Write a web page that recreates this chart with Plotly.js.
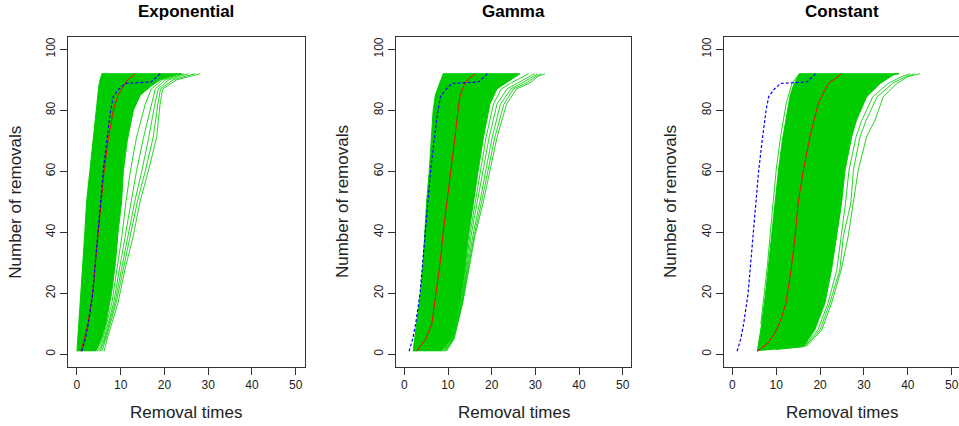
<!DOCTYPE html>
<html>
<head>
<meta charset="utf-8">
<script src="https://cdn.plot.ly/plotly-3.0.1.min.js"></script>
<style>
html,body{margin:0;padding:0;overflow:hidden;background:#fff;}
#chart{width:962px;height:426px;}
</style>
</head>
<body>
<div id="chart"></div>
<script>
// ---------- data ----------
const panelTitles = ["Exponential", "Gamma", "Constant"];
const xTicks = [0, 10, 20, 30, 40, 50];
const yTicks = [0, 20, 40, 60, 80, 100];

// common removal-count levels used for band edges / medians
const removalLevels = [1, 5, 10, 20, 30, 40, 50, 60, 70, 80, 85, 88, 90, 91, 92];

// observed removal curve (blue, same in all panels)
const obsY = [1, 5, 10, 20, 30, 40, 50, 60, 70, 80, 84.5, 87, 88.8, 89.3, 90.5, 92];
const obsX = [1.1, 1.9, 2.6, 3.6, 4.2, 4.8, 5.4, 6.0, 6.8, 7.7, 8.3, 9.6, 11.0, 17.0, 17.9, 19.0];

// Exponential
const expLeft   = [0.0, 0.2, 0.45, 0.9, 1.3, 1.8, 2.2, 2.9, 3.6, 4.3, 4.7, 5.0, 5.3, 5.5, 5.7];
const expRight  = [4.3, 5.6, 6.6, 7.9, 8.8, 9.4, 10.2, 10.6, 11.5, 12.9, 14.5, 17.0, 19.0, 21.0, 24.0];
const expMedian = [0.9, 1.7, 2.5, 3.6, 4.2, 4.9, 5.5, 6.2, 7.1, 8.3, 9.4, 10.6, 11.6, 12.4, 13.4];
const expTailY  = [1, 5, 17, 28, 39, 50, 60, 71, 82, 87, 90, 92];
const expTail1  = [4.6, 5.9, 8.0, 9.2, 10.3, 11.2, 12.2, 13.6, 15.6, 17.0, 19.5, 23.5];
const expTail2  = [5.0, 6.2, 8.4, 9.7, 11.0, 12.3, 13.6, 15.2, 17.0, 17.9, 20.2, 24.5];
const expTail3  = [5.3, 6.4, 8.7, 10.2, 11.7, 13.2, 14.8, 16.4, 17.8, 18.6, 21.0, 25.5];
const expTail4  = [5.7, 6.6, 9.0, 10.6, 12.3, 13.8, 15.6, 17.4, 18.5, 19.1, 22.0, 27.0];
const expTail5  = [6.2, 6.9, 9.4, 11.0, 12.9, 14.4, 16.3, 18.2, 19.0, 19.6, 22.8, 28.2];

// Gamma
const gamLeft   = [2.0, 2.4, 2.8, 3.7, 4.3, 4.7, 5.1, 5.7, 6.2, 6.6, 7.1, 7.8, 8.3, 8.6, 8.9];
const gamRightY = [1, 5, 10, 17, 28, 39, 50, 60, 71, 82, 87, 89, 91, 92];
const gamRightX = [8.5, 10.8, 11.8, 12.8, 13.9, 14.7, 15.8, 16.9, 18.1, 19.6, 21.2, 23.4, 25.5, 26.5];
const gamMedian = [2.8, 4.9, 6.3, 7.3, 8.2, 8.9, 9.8, 10.7, 11.5, 12.3, 12.8, 13.6, 14.5, 15.3, 16.3];
const gamTailY  = [1, 5, 17, 28, 39, 50, 60, 71, 82, 87, 89, 91, 92];
const gamTail1  = [8.8, 11.0, 13.0, 14.1, 15.0, 16.3, 17.4, 18.7, 20.4, 22.2, 24.5, 27.0, 28.5];
const gamTail2  = [9.0, 11.1, 13.1, 14.3, 15.3, 16.8, 18.0, 19.4, 21.2, 23.5, 26.0, 28.5, 29.8];
const gamTail3  = [9.2, 11.2, 13.2, 14.5, 15.7, 17.3, 18.6, 20.1, 22.0, 24.4, 27.0, 29.5, 30.6];
const gamTail4  = [9.4, 11.3, 13.3, 14.6, 16.0, 17.7, 19.1, 20.7, 22.8, 25.0, 28.0, 30.0, 31.4];
const gamTail5  = [9.6, 11.4, 13.4, 14.8, 16.2, 18.1, 19.6, 21.2, 23.4, 25.7, 28.8, 30.5, 32.2];

// Constant
const conLeft   = [5.7, 6.2, 6.7, 7.6, 8.3, 9.1, 9.7, 10.5, 11.4, 12.5, 13.2, 13.9, 14.5, 14.9, 15.3];
const conRightY = [1.6, 2.5, 8, 16.7, 27.6, 38.6, 49.5, 60.4, 71.3, 76.7, 84.4, 88.8, 91.6, 92];
const conRightX = [10.0, 16.2, 18.8, 21.1, 22.6, 23.8, 24.9, 25.7, 27.2, 28.3, 30.6, 33.7, 36.7, 38.0];
const conMedY   = [1, 3.7, 8, 12.3, 16.7, 27.6, 38.6, 49.5, 60.4, 71.3, 82.3, 88.8, 92];
const conMedX   = [5.7, 8.2, 10.1, 11.3, 12.2, 13.4, 14.3, 15.0, 16.2, 17.7, 19.6, 21.9, 24.9];
const conTailY  = [2.5, 8, 16.7, 27.6, 38.6, 49.5, 60.4, 71.3, 76.7, 84.4, 88.8, 91, 92];
const conTail1  = [16.8, 20.4, 22.6, 24.8, 26.4, 27.6, 28.7, 30.6, 32.5, 34.4, 37.5, 40.0, 42.8];
const conTail2  = [16.5, 20.0, 22.2, 24.5, 25.3, 27.0, 27.6, 29.1, 30.5, 33.0, 36.5, 39.5, 41.5];
const conTail3  = [16.3, 19.5, 21.8, 23.8, 24.8, 25.8, 26.6, 28.2, 29.5, 32.0, 35.5, 38.5, 40.5];
const conEarlyY = [10, 27.6, 49.5, 60.4, 71.3, 82.3, 88.8, 92];
const conEarlyX = [6.5, 7.9, 9.3, 10.0, 11.0, 12.3, 13.6, 15.3];

// ---------- styles ----------
const GREEN = "#00CC00", RED = "#FF0000", BLUE = "#0000FF", INK = "#333333";
const FONT = "Liberation Sans, Arial, sans-serif";
const W = 962, H = 426;

const panels = [
  {left: expLeft, leftY: removalLevels, right: expRight, rightY: removalLevels,
   med: expMedian, medY: removalLevels,
   tails: [[expTailY, expTail1], [expTailY, expTail2], [expTailY, expTail3], [expTailY, expTail4], [expTailY, expTail5]]},
  {left: gamLeft, leftY: removalLevels, right: gamRightX, rightY: gamRightY,
   med: gamMedian, medY: removalLevels,
   tails: [[gamTailY, gamTail1], [gamTailY, gamTail2], [gamTailY, gamTail3], [gamTailY, gamTail4], [gamTailY, gamTail5]]},
  {left: conLeft, leftY: removalLevels, right: conRightX, rightY: conRightY,
   med: conMedX, medY: conMedY,
   tails: [[conTailY, conTail1], [conTailY, conTail2], [conTailY, conTail3], [conEarlyY, conEarlyX]]}
];

// pixel placement of the three plot boxes
const boxPx = [[68.2, 304.5], [395.6, 631.4], [723.5, 960.5]];
const yTopPx = 37.1, yBotPx = 366.5;

const traces = [];
const layout = {
  width: W, height: H,
  margin: {l: 0, r: 0, t: 0, b: 0},
  paper_bgcolor: "#fff", plot_bgcolor: "#fff",
  showlegend: false,
  font: {family: FONT, color: "#222"},
  annotations: []
};

panels.forEach((p, i) => {
  const n = i === 0 ? "" : String(i + 1);
  const xa = "x" + n, ya = "y" + n;
  // dense band of simulated curves
  traces.push({
    x: p.left.concat(p.right.slice().reverse()),
    y: p.leftY.concat(p.rightY.slice().reverse()),
    xaxis: xa, yaxis: ya, type: "scatter", mode: "lines",
    fill: "toself", fillcolor: GREEN,
    line: {color: GREEN, width: 1}, hoverinfo: "skip"
  });
  // sparse individual simulated curves
  p.tails.forEach(t => traces.push({
    x: t[1], y: t[0], xaxis: xa, yaxis: ya, type: "scatter", mode: "lines",
    line: {color: GREEN, width: 1}, opacity: 0.85, hoverinfo: "skip"
  }));
  // median (red)
  traces.push({x: p.med, y: p.medY, xaxis: xa, yaxis: ya, type: "scatter", mode: "lines",
    line: {color: RED, width: 1}});
  // observed (blue dotted)
  traces.push({x: obsX, y: obsY, xaxis: xa, yaxis: ya, type: "scatter", mode: "lines",
    line: {color: BLUE, width: 1.2, dash: "3px,2px"}});

  const dom = [boxPx[i][0] / W, boxPx[i][1] / W];
  layout["xaxis" + n] = {
    domain: dom, anchor: ya, range: [-2, 52],
    tickmode: "array", tickvals: xTicks, ticktext: xTicks.map(String),
    ticks: "outside", ticklen: 7, tickwidth: 1, tickcolor: INK,
    showline: true, mirror: true, linecolor: INK, linewidth: 1,
    showgrid: false, zeroline: false,
    tickfont: {family: FONT, size: 12, color: "#222"}
  };
  layout["yaxis" + n] = {
    domain: [(H - yBotPx) / H, (H - yTopPx) / H], anchor: xa, range: [-4, 104],
    tickmode: "array", tickvals: yTicks, ticktext: yTicks.map(String),
    ticks: "outside", ticklen: 7, tickwidth: 1, tickcolor: INK, tickangle: -90,
    showline: true, mirror: true, linecolor: INK, linewidth: 1,
    showgrid: false, zeroline: false,
    tickfont: {family: FONT, size: 12, color: "#222"}
  };
  const cx = (boxPx[i][0] + boxPx[i][1]) / 2 / W;
  layout.annotations.push({
    text: "<b>" + panelTitles[i] + "</b>", xref: "paper", yref: "paper",
    x: cx, y: (H - 12) / H, xanchor: "center", yanchor: "middle", showarrow: false,
    font: {family: FONT, size: 17, color: "#000"}
  });
  layout.annotations.push({
    text: "Removal times", xref: "paper", yref: "paper",
    x: cx, y: (H - 412) / H, xanchor: "center", yanchor: "middle", showarrow: false,
    font: {family: FONT, size: 17, color: "#222"}
  });
  layout.annotations.push({
    text: "Number of removals", xref: "paper", yref: "paper",
    x: (boxPx[i][0] - 52.5) / W, y: (H - 202) / H, xanchor: "center", yanchor: "middle",
    textangle: -90, showarrow: false,
    font: {family: FONT, size: 17, color: "#222"}
  });
});

Plotly.newPlot("chart", traces, layout, {staticPlot: true, displayModeBar: false});
</script>
</body>
</html>
